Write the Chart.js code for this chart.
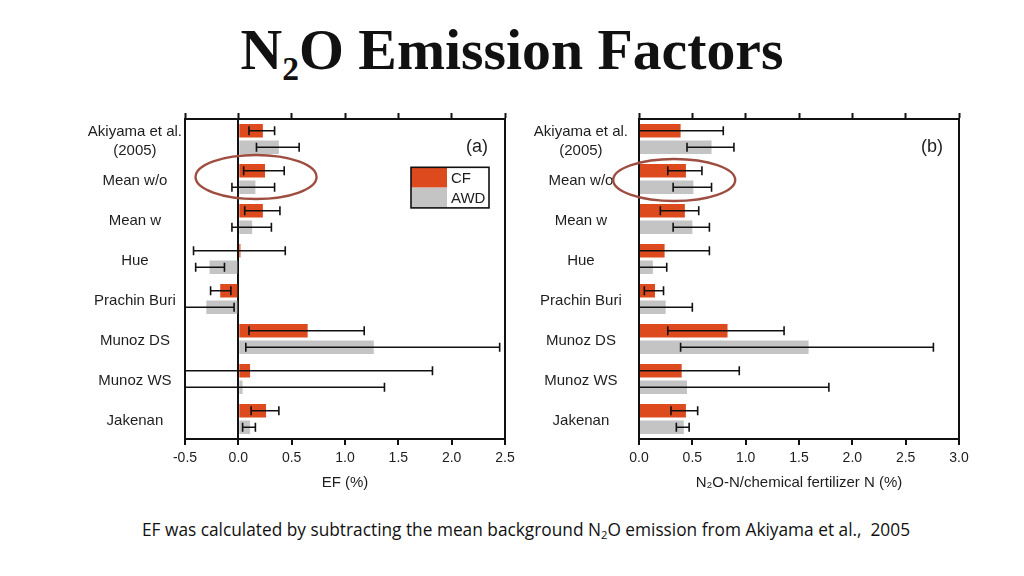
<!DOCTYPE html>
<html>
<head>
<meta charset="utf-8">
<script src="https://cdn.jsdelivr.net/npm/chart.js@4"></script>
<style>
  html, body { margin:0; padding:0; }
  body { width:1024px; height:576px; background:#fff; position:relative; overflow:hidden; }
  #title { position:absolute; left:0; width:1024px; top:21px; text-align:center;
           font-family:"Liberation Serif","Times New Roman",serif; font-weight:bold;
           font-size:57px; line-height:57px; color:#111; white-space:nowrap; }
  #title .sub { font-size:0.58em; position:relative; top:0.34em; line-height:0; }
  #foot { position:absolute; left:142px; top:519px; font-family:"Open Sans",sans-serif;
          font-size:16px; line-height:22px; color:#111; white-space:nowrap; }
  #foot .sub { font-size:0.65em; position:relative; top:0.3em; line-height:0; }
  .wrap { position:absolute; }
</style>
</head>
<body>
<div id="title"><span id="titleText">N<span class="sub">2</span>O Emission Factors</span></div>
<div class="wrap" style="left:80px;top:100px;width:440px;height:400px"><canvas id="ca"></canvas></div>
<div class="wrap" style="left:530px;top:100px;width:450px;height:400px"><canvas id="cb"></canvas></div>
<div id="foot">EF was calculated by subtracting the mean background N<span class="sub">2</span>O emission from Akiyama et al.,&nbsp; 2005</div>
<script>
// ---------- data ----------
const categories = [['Akiyama et al.', '(2005)'], 'Mean w/o', 'Mean w', 'Hue', 'Prachin Buri', 'Munoz DS', 'Munoz WS', 'Jakenan'];
const seriesNames = ['CF', 'AWD'];

// Panel (a): EF (%)
const cfA      = [0.23, 0.25, 0.23, 0.02, -0.17, 0.65, 0.11, 0.26];
const cfA_lo   = [0.10, 0.05, 0.06, -0.42, -0.26, 0.10, -1.60, 0.12];
const cfA_hi   = [0.34, 0.43, 0.39, 0.44, -0.07, 1.18, 1.82, 0.38];
const awdA     = [0.38, 0.16, 0.13, -0.27, -0.30, 1.27, 0.04, 0.11];
const awdA_lo  = [0.17, -0.06, -0.06, -0.40, -0.56, 0.07, -1.30, 0.04];
const awdA_hi  = [0.57, 0.34, 0.31, -0.13, -0.04, 2.45, 1.37, 0.16];

// Panel (b): N2O-N / chemical fertilizer N (%)
const cfB      = [0.39, 0.44, 0.43, 0.24, 0.15, 0.83, 0.40, 0.44];
const cfB_lo   = [-0.01, 0.27, 0.20, -0.18, 0.05, 0.27, -0.14, 0.30];
const cfB_hi   = [0.79, 0.59, 0.56, 0.66, 0.23, 1.36, 0.94, 0.55];
const awdB     = [0.68, 0.51, 0.50, 0.13, 0.25, 1.59, 0.45, 0.42];
const awdB_lo  = [0.45, 0.32, 0.32, -0.01, -0.01, 0.39, -0.88, 0.35];
const awdB_hi  = [0.89, 0.68, 0.66, 0.26, 0.50, 2.76, 1.78, 0.47];

const ticksA = { min: -0.5, max: 2.5, step: 0.5 };
const ticksB = { min: 0, max: 3.0, step: 0.5 };
const axisTitleA = 'EF (%)';
const axisTitleB = 'N\u2082O-N/chemical fertilizer N (%)';

// ---------- styling ----------
const CF_COLOR = '#dc4a1e';
const AWD_COLOR = '#c4c4c4';
const INK = '#111';
const TXT = '#1e1e1e';
const FONT = '"Liberation Sans", Arial, Helvetica, sans-serif';
Chart.defaults.font.family = FONT;
Chart.defaults.color = TXT;

const errorBars = {
  id: 'errorBars',
  afterDatasetsDraw(chart) {
    const { ctx, chartArea: a } = chart;
    const xs = chart.scales.x;
    const cap = 4.5;
    ctx.save();
    ctx.beginPath();
    ctx.rect(a.left, a.top, a.right - a.left, a.bottom - a.top);
    ctx.clip();
    ctx.strokeStyle = INK;
    ctx.lineWidth = 1.6;
    chart.data.datasets.forEach((ds, i) => {
      const meta = chart.getDatasetMeta(i);
      meta.data.forEach((el, j) => {
        const y = el.y;
        const x1 = xs.getPixelForValue(ds.errLow[j]);
        const x2 = xs.getPixelForValue(ds.errHigh[j]);
        ctx.beginPath();
        ctx.moveTo(x1, y); ctx.lineTo(x2, y);
        [x1, x2].forEach(x => {
          if (x > a.left + 1.5 && x < a.right - 1.5) {
            ctx.moveTo(x, y - cap); ctx.lineTo(x, y + cap);
          }
        });
        ctx.stroke();
      });
    });
    ctx.restore();
  }
};

const extras = {
  id: 'extras',
  afterDraw(chart, args, o) {
    const { ctx, chartArea: a } = chart;
    const xs = chart.scales.x, ys = chart.scales.y;
    ctx.save();
    // panel letter
    ctx.font = '18px ' + FONT;
    ctx.fillStyle = TXT;
    ctx.textAlign = 'right';
    ctx.textBaseline = 'middle';
    ctx.fillText(o.letter, a.right - o.letterDx, a.top + o.letterDy);
    // ellipse highlight
    if (o.ellipse) {
      const e = o.ellipse;
      const cx = xs.getPixelForValue(e.value);
      const cy = ys.getPixelForValue(e.index) + e.dy;
      ctx.beginPath();
      ctx.ellipse(cx, cy, e.rx, e.ry, 0, 0, Math.PI * 2);
      ctx.strokeStyle = '#9e4e40';
      ctx.lineWidth = 2.4;
      ctx.stroke();
    }
    // legend
    if (o.legend) {
      const L = o.legend;
      const right = a.right - L.dx, top = a.top + L.dy;
      const left = right - L.w;
      const sw = L.sw, h = L.h;
      chart.data.datasets.forEach((ds, i) => {
        ctx.fillStyle = ds.backgroundColor;
        ctx.fillRect(left, top + i * h, sw, h);
        ctx.fillStyle = TXT;
        ctx.font = '15px ' + FONT;
        ctx.textAlign = 'left';
        ctx.textBaseline = 'middle';
        ctx.fillText(ds.label, left + sw + 4, top + i * h + h / 2 + 1);
      });
      ctx.strokeStyle = INK;
      ctx.lineWidth = 1.6;
      ctx.strokeRect(left, top, L.w, h * chart.data.datasets.length);
    }
    ctx.restore();
  }
};

function makeChart(id, cf, cfLo, cfHi, awd, awdLo, awdHi, t, title, yWidth, rightWidth, labelPad, zeroLine, extraOpts) {
  const tickFmt = v => Number(v).toFixed(1);
  return new Chart(document.getElementById(id), {
    type: 'bar',
    data: {
      labels: categories,
      datasets: [
        { label: seriesNames[0], data: cf, errLow: cfLo, errHigh: cfHi, backgroundColor: CF_COLOR, borderWidth: 0 },
        { label: seriesNames[1], data: awd, errLow: awdLo, errHigh: awdHi, backgroundColor: AWD_COLOR, borderWidth: 0 }
      ]
    },
    options: {
      indexAxis: 'y',
      responsive: true,
      maintainAspectRatio: false,
      animation: false,
      events: [],
      layout: { padding: { left: 0, right: 0, top: 0, bottom: 8 } },
      datasets: { bar: { categoryPercentage: 0.825, barPercentage: 0.82 } },
      plugins: { legend: { display: false }, tooltip: { enabled: false }, extras: extraOpts },
      scales: {
        x: {
          type: 'linear', position: 'bottom', min: t.min, max: t.max,
          ticks: { stepSize: t.step, callback: tickFmt, font: { size: 14 }, color: TXT, padding: 5, maxRotation: 0 },
          grid: {
            drawOnChartArea: zeroLine, tickLength: 6, tickWidth: 2, tickColor: INK,
            color: c => (zeroLine && c.tick && Math.abs(c.tick.value) < 1e-9) ? INK : 'rgba(0,0,0,0)',
            lineWidth: 2
          },
          border: { display: true, color: INK, width: 2 },
          title: { display: true, text: title, font: { size: 15 }, color: TXT, padding: { top: 8, bottom: 0 } },
          afterFit: s => { s.height = 53; }
        },
        x2: {
          type: 'linear', position: 'top', min: t.min, max: t.max,
          ticks: { stepSize: t.step, display: false },
          grid: { drawOnChartArea: false, tickLength: 6, tickWidth: 2, tickColor: INK, color: 'rgba(0,0,0,0)' },
          border: { display: true, color: INK, width: 2 },
          afterFit: s => { s.height = 19; }
        },
        y: {
          type: 'category', position: 'left',
          ticks: { font: { size: 15, lineHeight: 1.27 }, color: TXT, crossAlign: 'center', padding: labelPad, labelOffset: 2, autoSkip: false },
          grid: { display: false },
          border: { display: true, color: INK, width: 2 },
          afterFit: s => { s.width = yWidth; }
        },
        y2: {
          type: 'category', position: 'right',
          ticks: { display: false },
          grid: { display: false },
          border: { display: true, color: INK, width: 2 },
          afterFit: s => { s.width = rightWidth; }
        }
      }
    },
    plugins: [errorBars, extras]
  });
}

makeChart('ca', cfA, cfA_lo, cfA_hi, awdA, awdA_lo, awdA_hi, ticksA, axisTitleA, 105, 15, -5, true, {
  letter: '(a)', letterDx: 17, letterDy: 28,
  ellipse: { value: 0.166, index: 1, dy: -2, rx: 60.5, ry: 22 },
  legend: { dx: 16, dy: 48.3, w: 78, sw: 36, h: 20.3 }
});
makeChart('cb', cfB, cfB_lo, cfB_hi, awdB, awdB_lo, awdB_hi, ticksB, axisTitleB, 109, 21, 3, false, {
  letter: '(b)', letterDx: 16, letterDy: 28,
  ellipse: { value: 0.33, index: 1, dy: 1, rx: 61, ry: 21 }
});

// fit footnote and title widths to the reference span
(function fit() {
  const f = document.getElementById('foot');
  const w = f.getBoundingClientRect().width;
  f.style.fontSize = (16 * 769 / w).toFixed(2) + 'px';
  const t = document.getElementById('titleText');
  const tw = t.getBoundingClientRect().width;
  document.getElementById('title').style.fontSize = (57 * 543 / tw).toFixed(2) + 'px';
})();
</script>
</body>
</html>
